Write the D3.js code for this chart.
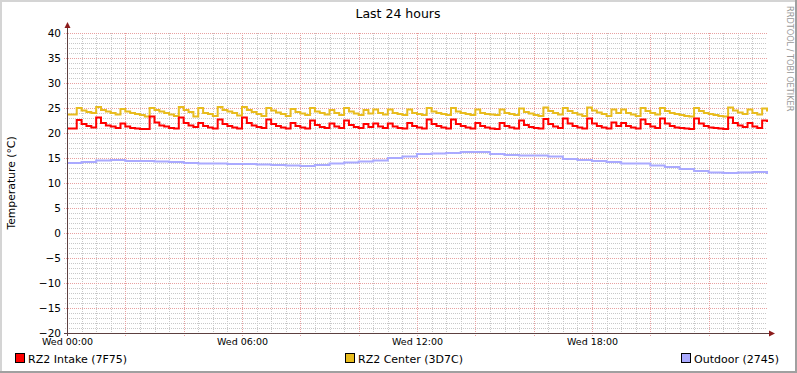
<!DOCTYPE html>
<html lang="en">
<head>
  <meta charset="UTF-8">
  <title>Last 24 hours</title>
  <script src="https://d3js.org/d3.v7.min.js"></script>
  <style>
    body { margin: 0; background: #fff; }
    svg { display: block; font-family: "DejaVu Sans", sans-serif; }
  </style>
</head>
<body>
  <div id="root"></div>
  <script>
    // 数据: 10 分钟一个采样点 (Wed 00:00 -> Thu 00:00)
    const intake = [
      20.9, 20.9, 22.6, 21.8, 21.4, 21.1, 23.1, 22.0, 21.5, 21.3,
      21.0, 21.9, 21.3, 21.0, 20.9, 20.8, 20.8, 23.3, 22.1, 21.5,
      21.3, 21.0, 20.9, 23.1, 22.0, 21.5, 21.2, 22.0, 21.4, 21.1,
      20.9, 22.7, 21.8, 21.4, 21.1, 20.9, 23.1, 22.0, 21.5, 21.2,
      21.0, 22.7, 21.8, 21.4, 21.1, 20.9, 22.0, 21.4, 21.1, 20.9,
      22.5, 21.6, 21.2, 21.0, 21.9, 21.3, 21.0, 22.5, 21.6, 21.2,
      21.0, 21.8, 21.2, 21.9, 21.3, 21.0, 21.9, 21.3, 21.0, 20.9,
      22.0, 21.4, 21.1, 20.9, 22.7, 21.8, 21.4, 21.1, 20.9, 22.7,
      21.8, 21.4, 21.1, 20.9, 22.0, 21.4, 21.1, 20.9, 20.8, 22.0,
      21.4, 21.1, 20.9, 22.5, 21.6, 21.2, 21.0, 20.9, 22.8, 21.8,
      21.3, 21.0, 22.9, 21.9, 21.4, 21.1, 20.9, 22.9, 21.9, 21.4,
      21.1, 20.9, 22.1, 21.4, 22.0, 21.4, 21.1, 20.9, 22.7, 21.8,
      21.3, 21.0, 22.9, 21.9, 21.4, 21.1, 21.0, 20.9, 20.8, 22.9,
      21.9, 21.4, 21.1, 21.0, 20.9, 20.8, 23.1, 22.0, 21.5, 21.2,
      22.0, 21.3, 21.0, 22.5, 22.2
    ]
    const center = [
      23.7, 23.7, 25.0, 24.5, 24.2, 24.0, 25.2, 24.6, 24.3, 24.0,
      23.7, 24.8, 24.3, 24.0, 23.8, 23.6, 23.3, 25.0, 24.6, 24.3,
      24.0, 23.7, 23.4, 25.2, 24.6, 24.2, 23.3, 25.0, 24.0, 23.8,
      23.4, 25.2, 24.6, 24.3, 24.0, 23.5, 25.2, 24.6, 24.2, 23.8,
      23.4, 25.0, 24.5, 24.1, 23.8, 23.4, 24.8, 24.2, 23.9, 23.6,
      25.0, 24.3, 24.0, 23.7, 24.6, 24.0, 23.6, 25.0, 24.3, 23.9,
      23.6, 24.6, 23.9, 24.7, 24.0, 23.7, 24.7, 24.0, 23.8, 23.6,
      24.7, 24.0, 23.8, 23.6, 25.0, 24.3, 24.0, 23.8, 23.6, 25.0,
      24.3, 24.0, 23.8, 23.6, 24.7, 24.0, 23.8, 23.7, 23.6, 24.7,
      24.0, 23.8, 23.6, 24.9, 24.2, 23.9, 23.6, 23.4, 25.1, 24.4,
      24.0, 23.7, 25.0, 24.4, 24.0, 23.7, 23.4, 25.1, 24.5, 24.1,
      23.8, 23.4, 24.7, 24.0, 24.7, 24.0, 23.7, 23.4, 25.0, 24.4,
      24.0, 23.7, 25.0, 24.4, 24.0, 23.8, 23.6, 23.4, 23.3, 25.0,
      24.4, 24.0, 23.8, 23.6, 23.4, 23.3, 25.1, 24.5, 24.1, 23.8,
      24.7, 24.0, 23.7, 24.9, 24.3
    ]
    // 室外温度: 30 分钟一个采样点
    const outdoor = [
      14.0, 14.2, 14.5, 14.6, 14.4, 14.4, 14.3, 14.2, 14.0, 13.9,
      13.9, 13.8, 13.8, 13.7, 13.6, 13.5, 13.4, 13.6, 13.9, 14.1,
      14.3, 14.5, 15.0, 15.3, 15.8, 15.9, 16.0, 16.2, 16.2, 15.8,
      15.6, 15.5, 15.5, 15.3, 14.8, 14.6, 14.4, 14.2, 13.9, 13.9,
      13.5, 13.2, 12.8, 12.4, 12.1, 12.0, 12.1, 12.2, 11.8
    ]

    const yTicks = [-20, -15, -10, -5, 0, 5, 10, 15, 20, 25, 30, 35, 40]
    const xTickHours = [0, 6, 12, 18]
    const legendNames = ['RZ2 Intake (7F75)', 'RZ2 Center (3D7C)', 'Outdoor (2745)']
    const seriesColors = ['#ff0000', '#e8bc1e', '#aaaaff']

    const width = 797
    const height = 373
    const plot = {left: 67, right: 767, top: 33, bottom: 333}

    const svg = d3.select('#root')
      .append('svg')
      .attr('width', width)
      .attr('height', height)

    // 外框 (rrdtool 风格的 3D 边框)
    svg.append('rect').attr('width', width).attr('height', height).attr('fill', '#a0a0a0')
    svg.append('rect').attr('width', width - 2).attr('height', height - 2).attr('fill', '#d4d4d4')
    svg.append('rect').attr('x', 2).attr('y', 2).attr('width', width - 4).attr('height', height - 4).attr('fill', '#fff')

    // 比例尺
    const start = new Date(2024, 0, 3, 0, 0) // 周三
    const end = d3.timeDay.offset(start, 1)
    const x = d3.scaleTime().domain([start, end]).range([plot.left, plot.right])
    const y = d3.scaleLinear().domain([-20, 40]).range([plot.bottom, plot.top])

    // 网格 - 次要
    const grid = svg.append('g').attr('shape-rendering', 'crispEdges')
    const minorX = x.ticks(d3.timeMinute.every(30)).filter(d => d.getMinutes() === 30 || d.getHours() % 2 === 1)
    const majorX = x.ticks(d3.timeHour.every(2))
    const minorY = d3.range(-20, 41, 1).filter(v => v % 5 !== 0)

    grid.selectAll('.minorX').data(minorX).enter().append('line')
      .attr('x1', d => Math.round(x(d)) + 0.5).attr('x2', d => Math.round(x(d)) + 0.5)
      .attr('y1', plot.top).attr('y2', plot.bottom + 2)
      .attr('stroke', '#c8c8c8').attr('stroke-dasharray', '1,1')
    grid.selectAll('.minorY').data(minorY).enter().append('line')
      .attr('x1', plot.left - 2).attr('x2', plot.right)
      .attr('y1', d => Math.round(y(d)) + 0.5).attr('y2', d => Math.round(y(d)) + 0.5)
      .attr('stroke', '#c8c8c8').attr('stroke-dasharray', '1,1')

    // 网格 - 主要
    grid.selectAll('.majorX').data(majorX.filter(d => +d !== +start && +d !== +end)).enter().append('line')
      .attr('x1', d => Math.round(x(d)) + 0.5).attr('x2', d => Math.round(x(d)) + 0.5)
      .attr('y1', plot.top).attr('y2', plot.bottom + 3)
      .attr('stroke', '#e8a0a0').attr('stroke-dasharray', '1,1')
    grid.selectAll('.majorY').data(yTicks).enter().append('line')
      .attr('x1', plot.left - 3).attr('x2', plot.right)
      .attr('y1', d => Math.round(y(d)) + 0.5).attr('y2', d => Math.round(y(d)) + 0.5)
      .attr('stroke', '#e8a0a0').attr('stroke-dasharray', '1,1')

    // 折线
    const line = d3.line()
      .x(d => x(d.t))
      .y(d => y(d.v))
      .curve(d3.curveStepAfter)

    const toPoints = (arr, step) => arr.map((v, i) => ({t: d3.timeMinute.offset(start, i * step), v}))
    const series = [toPoints(intake, 10), toPoints(center, 10), toPoints(outdoor, 30)]

    // 先画室外, 再画中心, 最后画进风 (与原图层次一致)
    svg.append('g').selectAll('path')
      .data([series[2], series[1], series[0]])
      .enter()
      .append('path')
      .attr('d', line)
      .attr('fill', 'none')
      .attr('stroke', (d, i) => [seriesColors[2], seriesColors[1], seriesColors[0]][i])
      .attr('stroke-width', 2)
      .attr('stroke-linejoin', 'miter')

    // 坐标轴
    const axisColor = '#5c4040'
    const arrowColor = '#8c1c1c'
    svg.append('line')
      .attr('x1', plot.left + 0.5).attr('x2', plot.left + 0.5)
      .attr('y1', plot.bottom + 3).attr('y2', plot.top - 6)
      .attr('stroke', axisColor).attr('shape-rendering', 'crispEdges')
    svg.append('line')
      .attr('x1', plot.left - 3).attr('x2', plot.right + 3)
      .attr('y1', plot.bottom + 0.5).attr('y2', plot.bottom + 0.5)
      .attr('stroke', axisColor).attr('shape-rendering', 'crispEdges')
    svg.append('path')
      .attr('d', `M${plot.left - 2.5},${plot.top - 5} L${plot.left + 3.5},${plot.top - 5} L${plot.left + 0.5},${plot.top - 11} Z`)
      .attr('fill', arrowColor)
    svg.append('path')
      .attr('d', `M${plot.right + 2},${plot.bottom - 2.5} L${plot.right + 2},${plot.bottom + 3.5} L${plot.right + 8},${plot.bottom + 0.5} Z`)
      .attr('fill', arrowColor)

    // y 轴刻度
    const yAxis = d3.axisLeft(y).tickValues(yTicks).tickSize(0).tickPadding(6)
    const yAxisG = svg.append('g')
      .attr('transform', `translate(${plot.left},0)`)
      .call(yAxis)
    yAxisG.select('.domain').remove()
    yAxisG.selectAll('text').attr('font-size', '10.5px').attr('fill', '#000').attr('font-family', '"DejaVu Sans", sans-serif')

    // x 轴刻度
    const fmt = d3.timeFormat('%a %H:%M')
    const xAxis = d3.axisBottom(x)
      .tickValues(xTickHours.map(h => d3.timeHour.offset(start, h)))
      .tickFormat(fmt)
      .tickSize(0)
      .tickPadding(5)
    const xAxisG = svg.append('g')
      .attr('transform', `translate(0,${plot.bottom})`)
      .call(xAxis)
    xAxisG.select('.domain').remove()
    xAxisG.selectAll('text').attr('font-size', '9.5px').attr('fill', '#000').attr('font-family', '"DejaVu Sans", sans-serif')

    // 标题
    svg.append('text').text('Last 24 hours')
      .attr('x', 398).attr('y', 18)
      .attr('text-anchor', 'middle').attr('font-size', '12.5px')

    // y 轴标题
    svg.append('text').text('Temperature (°C)')
      .attr('transform', 'translate(15,183) rotate(-90)')
      .attr('text-anchor', 'middle').attr('font-size', '10.8px')

    // 右侧水印
    svg.append('text').text('RRDTOOL / TOBI OETIKER')
      .attr('transform', 'translate(787,6) rotate(90)')
      .attr('font-size', '8.2px').attr('fill', '#9a9a9a')

    // 图例
    const legendX = [15, 345, 681]
    const legend = svg.append('g').selectAll('g')
      .data(legendNames)
      .enter()
      .append('g')
      .attr('transform', (d, i) => `translate(${legendX[i]},353)`)
    legend.append('rect')
      .attr('x', 0.5).attr('y', 0.5).attr('width', 9).attr('height', 9)
      .attr('fill', (d, i) => seriesColors[i]).attr('stroke', '#000')
    legend.append('text').text(d => d)
      .attr('x', 13).attr('y', 9.5)
      .attr('font-size', '11px')
  </script>
</body>
</html>
